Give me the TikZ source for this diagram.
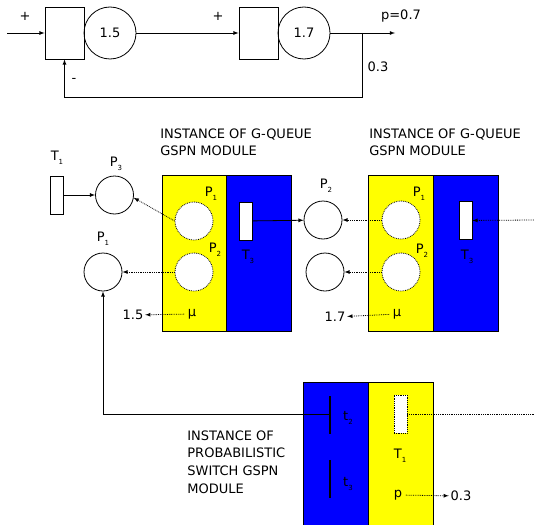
\documentclass[tikz,border=0pt]{standalone}
\usepackage{fontspec}
\setmainfont{DejaVu Sans}
\usetikzlibrary{arrows}
\definecolor{modyellow}{RGB}{255,255,0}
\definecolor{modblue}{RGB}{0,0,255}
\newcommand{\lsub}[1]{\raisebox{-0.5ex}{\scriptsize #1}}

\tikzset{
  every node/.style={font=\fontsize{13}{17}\selectfont},
  block/.style={draw, minimum width=39pt, minimum height=52pt, inner sep=0pt},
  server/.style={draw, circle, minimum size=52pt, inner sep=0pt},
  place/.style={draw, circle, minimum size=38pt, inner sep=0pt},
  subplace/.style={place, densely dotted, fill=white},
  trans/.style={draw, fill=white, minimum width=13pt, minimum height=38pt, inner sep=0pt},
  bar/.style={fill=black, minimum width=1.3pt, minimum height=38pt, inner sep=0pt},
  half/.style={draw, minimum width=65pt, minimum height=156pt, inner sep=0pt},
  caption/.style={anchor=west, align=left, inner sep=0pt},
  val/.style={inner sep=1.5pt},
  flow/.style={-latex},
  dflow/.style={-latex, densely dotted},
}

\begin{document}
\begin{tikzpicture}[x=1pt, y=-1pt, line width=0.8pt]
\useasboundingbox (0,0) rectangle (534,524);

% queue network
\coordinate (in) at (7,33);
\node[block] (b1) at (64.5,33) {};
\node[server] (c1) at (110,33) {1.5};
\node[block] (b2) at (258.5,33) {};
\node[server] (c2) at (304,33) {1.7};
\coordinate (split) at (362,33);
\coordinate (out) at (395,33);
\coordinate (fb) at (362,97);
\draw[flow] (in) -- (b1);
\draw[flow] (c1) -- (b2);
\draw[flow] (c2) -- (out);
\draw[flow] (split) -- (fb) -| (b1);
\node at (25,16) {+};
\node at (218,16) {+};
\node at (74,80) {-};
\node at (401,16) {p=0.7};
\node at (378,67) {0.3};

% G-queue modules
\node[caption] (txt1) at (160,142.5) {INSTANCE OF G-QUEUE\\GSPN MODULE};
\node[caption] (txt2) at (369,142.5) {INSTANCE OF G-QUEUE\\GSPN MODULE};

\node[half, fill=modyellow] (q1y) at (194.5,253) {};
\node[half, fill=modblue] (q1b) at (259,253) {};
\node[half, fill=modyellow] (q2y) at (400.5,253) {};
\node[half, fill=modblue] (q2b) at (465.5,253) {};

\node[trans] (t1) at (56.5,195) {};
\node[place] (p3) at (114.5,195) {};
\node[place] (p1) at (103,272) {};
\node[place] (p2) at (323,220) {};
\node[place] (p4) at (325,272) {};
\node at (57,158) {T\lsub{1}};
\node at (116,164) {P\lsub{3}};
\node at (103,239) {P\lsub{1}};
\node at (326,186) {P\lsub{2}};

\node[subplace] (q1p1) at (194,221) {};
\node[subplace] (q1p2) at (194,272) {};
\node[trans] (q1t3) at (245.5,221) {};
\node at (211,194) {P\lsub{1}};
\node at (215,250) {P\lsub{2}};
\node at (248,257) {T\lsub{3}};
\node (mu1) at (192,314) {μ};
\node[val] (r1) at (133,315) {1.5};

\node[subplace] (q2p1) at (401,220) {};
\node[subplace] (q2p2) at (401,272) {};
\node[trans] (q2t3) at (465.5,220.5) {};
\node at (419,194) {P\lsub{1}};
\node at (422,251) {P\lsub{2}};
\node at (467,257) {T\lsub{3}};
\node (mu2) at (397,314) {μ};
\node[val] (r2) at (335,317) {1.7};
\coordinate (q2in) at (534,220);

\draw[flow] (t1) -- (p3);
\draw[dflow] (q1p1.west) -- (p3.-8);
\draw[dflow] (q1p2) -- (p1);
\draw[flow] (q1t3) -- (p2);
\draw[dflow] (q2p1) -- (p2);
\draw[dflow] (q2p2) -- (p4);
\draw[dflow] (q2in) -- (q2t3);
\draw[dflow] (mu1) -- (r1);
\draw[dflow] (mu2) -- (r2);

% probabilistic switch
\node[caption, font=\fontsize{13}{17.7}\selectfont] (txt3) at (187,462) {INSTANCE OF\\PROBABILISTIC\\SWITCH GSPN\\MODULE};
\node[half, fill=modblue, minimum height=150pt] (swb) at (336,457) {};
\node[half, fill=modyellow, minimum height=150pt] (swy) at (401,457) {};
\node[bar] (t2) at (330,414.5) {};
\node[bar] (t3) at (330,478.5) {};
\node at (348,418) {t\lsub{2}};
\node at (348,484) {t\lsub{3}};
\node[trans, densely dotted] (swt1) at (400.5,414) {};
\node at (400,456) {T\lsub{1}};
\coordinate (swout) at (534,414);
\node (pp) at (398,495) {p};
\node[val] (pv) at (461,496) {0.3};

\draw[flow] (t2.center) -| (p1);
\draw[densely dotted] (swt1) -- (swout);
\draw[dflow] (pp) -- (pv);
\end{tikzpicture}
\end{document}
